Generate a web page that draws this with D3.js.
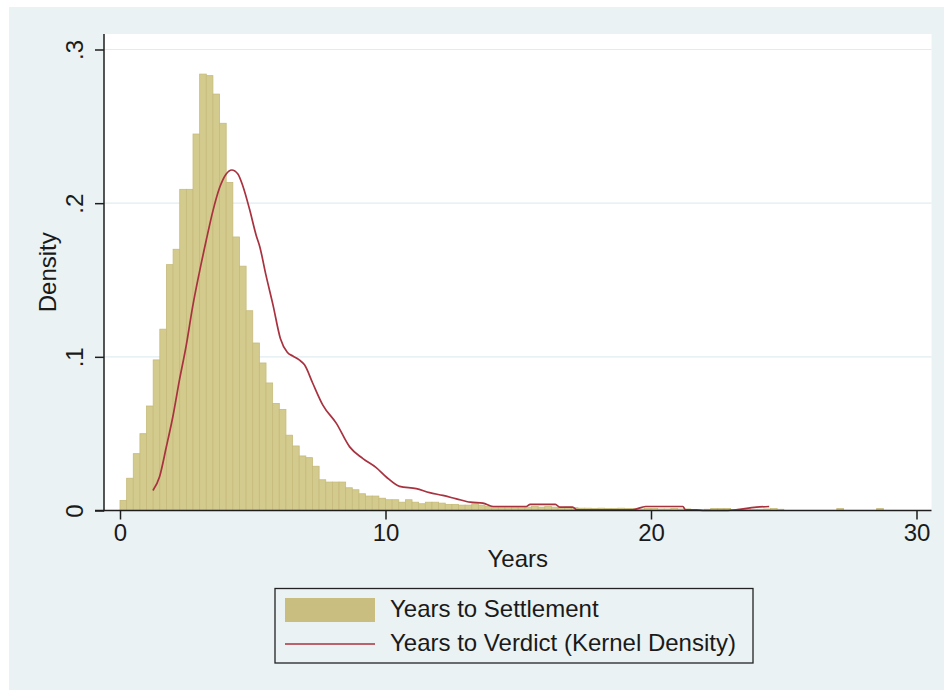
<!DOCTYPE html>
<html>
<head>
<meta charset="utf-8">
<script src="https://cdn.jsdelivr.net/npm/d3@7"></script>
<style>
  html, body { margin: 0; padding: 0; background: #ffffff; }
  svg { display: block; }
  text { font-family: "Liberation Sans", Arial, sans-serif; fill: #1a1a1a; }
</style>
</head>
<body>
<script>
// ---------------- DATA ----------------
const binWidth = 0.25; // years per histogram bin
// Years to Settlement: histogram densities for bins [0,0.25), [0.25,0.5), ... up to 30
const settlementDensity = [
  0.0065, 0.021, 0.037, 0.050, 0.068, 0.098, 0.118, 0.160, 0.170, 0.209,
  0.209, 0.245, 0.284, 0.283, 0.271, 0.252, 0.2135, 0.178, 0.159, 0.130,
  0.109, 0.096, 0.083, 0.0697, 0.0658, 0.049, 0.042, 0.0355, 0.0344, 0.0288,
  0.020, 0.0185, 0.0185, 0.0185, 0.0148, 0.0135, 0.0109, 0.0094, 0.0094, 0.008,
  0.007, 0.007, 0.0054, 0.007, 0.0054, 0.0044, 0.0054, 0.0054, 0.0048, 0.004,
  0.004, 0.0035, 0.0035, 0.0044, 0.0035, 0.0026, 0.0026, 0.0026, 0.0026, 0.0024,
  0.0026, 0.0022, 0.0026, 0.0022, 0.0026, 0.0022, 0.0020, 0.0022, 0.0018, 0.0015,
  0.0015, 0.0013, 0.0015, 0.0013, 0.0013, 0.0015, 0.0013, 0.0013, 0.0010, 0.0013,
  0.0013, 0.0010, 0.0010, 0.0013, 0.0010, 0.0010, 0.0005, 0, 0.0008, 0.0013,
  0.0013, 0.0013, 0.0005, 0.0008, 0.0010, 0.0008, 0.0008, 0.0010, 0.0013, 0.0008,
  0, 0, 0, 0, 0, 0, 0, 0, 0.0013, 0,
  0, 0, 0, 0, 0.0013, 0, 0, 0, 0, 0
];
// Years to Verdict: kernel density estimate (years, density)
const verdictYears = [
  1.24, 1.49, 1.74, 1.99, 2.24, 2.49, 2.74, 2.99, 3.25, 3.5,
  3.75, 4.0, 4.21, 4.44, 4.63, 4.88, 5.13, 5.26, 5.5, 5.76,
  6.04, 6.3, 6.51, 6.75, 6.95, 7.26, 7.64, 8.15, 8.65, 9.15,
  9.65, 10.03, 10.53, 11.16, 11.66, 12.16, 12.67, 13.2, 13.67, 14.05,
  14.6, 15.3, 15.45, 16.4, 16.56, 17.05, 17.2, 18.3, 19.3, 19.8,
  20.5, 21.2, 21.3, 21.7, 22.0, 22.9, 23.2, 23.97, 24.45
];
const verdictDensity = [
  0.013, 0.022, 0.041, 0.061, 0.085, 0.107, 0.133, 0.155, 0.176, 0.195,
  0.210, 0.219, 0.2216, 0.219, 0.211, 0.196, 0.179, 0.172, 0.153, 0.134,
  0.112, 0.103, 0.1005, 0.098, 0.0948, 0.0828, 0.0686, 0.0567, 0.0414, 0.0338,
  0.0279, 0.0218, 0.0157, 0.0142, 0.0116, 0.0098, 0.0076, 0.0054, 0.0048, 0.0026,
  0.0026, 0.0026, 0.004, 0.004, 0.0022, 0.0022, 0.0005, 0.0005, 0.0005, 0.0026,
  0.0026, 0.0026, 0.0005, 0.0005, 0.0, 0.0, 0.0005, 0.0022, 0.0026
];
const xTicks = [0, 10, 20, 30];
const xTickLabels = ["0", "10", "20", "30"];
const yTicks = [0, 0.1, 0.2, 0.3];
const yTickLabels = ["0", ".1", ".2", ".3"];
const legendLabels = ["Years to Settlement", "Years to Verdict (Kernel Density)"];
const xTitle = "Years";
const yTitle = "Density";

// ---------------- LAYOUT ----------------
const W = 946, H = 694;
const plot = { left: 104, top: 34, right: 931.5, bottom: 510.5 };
const barColor = "#d3ca8d", barStroke = "#c6bb7b", swatchColor = "#c9be80";
const lineColor = "#a8323f";
const bgColor = "#eaf2f3", gridColor = "#e1ecef", axisColor = "#1e1e1e";
const fontFam = '"Liberation Sans", Arial, sans-serif';

const svg = d3.select("body").append("svg").attr("width", W).attr("height", H);

// outer background
svg.append("rect").attr("x", 9).attr("y", 7).attr("width", 935).attr("height", 683).attr("fill", bgColor);
// plot region
svg.append("rect").attr("x", plot.left).attr("y", plot.top)
  .attr("width", plot.right - plot.left).attr("height", plot.bottom - plot.top).attr("fill", "#ffffff");

const x = d3.scaleLinear().domain([0, 30]).range([120, 916.5]);
const y = d3.scaleLinear().domain([0, 0.3]).range([plot.bottom, 49.5]);

// gridlines
svg.append("g").selectAll("line").data(yTicks.filter(d => d > 0)).join("line")
  .attr("x1", plot.left).attr("x2", plot.right)
  .attr("y1", d => y(d)).attr("y2", d => y(d))
  .attr("stroke", gridColor).attr("stroke-width", 1.2);

// histogram bars
const bins = settlementDensity.map((v, i) => ({ x0: i * binWidth, x1: (i + 1) * binWidth, v }));
svg.append("g").selectAll("rect").data(bins.filter(b => b.v > 0)).join("rect")
  .attr("x", d => x(d.x0))
  .attr("width", d => x(d.x1) - x(d.x0))
  .attr("y", d => y(d.v))
  .attr("height", d => y(0) - y(d.v))
  .attr("fill", barColor).attr("stroke", barStroke).attr("stroke-width", 0.8);

// kernel density line
const kd = verdictYears.map((t, i) => [t, verdictDensity[i]]);
const lineGen = d3.line().x(d => x(d[0])).y(d => y(d[1])).curve(d3.curveMonotoneX);
svg.append("path").datum(kd)
  .attr("fill", "none").attr("stroke", lineColor).attr("stroke-width", 1.7)
  .attr("d", lineGen);

// axes
const xAxis = d3.axisBottom(x).tickValues(xTicks).tickFormat((d, i) => xTickLabels[i]).tickSize(9).tickSizeOuter(0);
const gx = svg.append("g").attr("transform", `translate(0,${plot.bottom})`).call(xAxis);
gx.select(".domain").remove();
gx.selectAll(".tick line").attr("stroke", axisColor).attr("stroke-width", 1.5);
gx.selectAll(".tick text").attr("y", 30).attr("dy", 0)
  .style("font-size", "24px").style("font-family", fontFam).attr("fill", "#1a1a1a");

const yAxis = d3.axisLeft(y).tickValues(yTicks).tickFormat((d, i) => yTickLabels[i]).tickSize(9).tickSizeOuter(0);
const gy = svg.append("g").attr("transform", `translate(${plot.left},0)`).call(yAxis);
gy.select(".domain").remove();
gy.selectAll(".tick line").attr("stroke", axisColor).attr("stroke-width", 1.5);
gy.selectAll(".tick text")
  .attr("x", 0).attr("y", 0).attr("dy", 0)
  .attr("text-anchor", "middle")
  .attr("transform", "translate(-21,0) rotate(-90)")
  .style("font-size", "24px").style("font-family", fontFam).attr("fill", "#1a1a1a");

// axis lines
svg.append("line").attr("x1", plot.left).attr("x2", plot.left).attr("y1", plot.top).attr("y2", plot.bottom + 0.75)
  .attr("stroke", axisColor).attr("stroke-width", 1.5);
svg.append("line").attr("x1", 95).attr("x2", plot.right).attr("y1", plot.bottom).attr("y2", plot.bottom)
  .attr("stroke", axisColor).attr("stroke-width", 1.5);

// axis titles
svg.append("text").attr("x", (plot.left + plot.right) / 2).attr("y", 567)
  .attr("text-anchor", "middle").style("font-size", "24px").text(xTitle);
svg.append("text").attr("transform", `translate(56,${(plot.top + plot.bottom) / 2}) rotate(-90)`)
  .attr("text-anchor", "middle").style("font-size", "24px").text(yTitle);

// legend
const lg = svg.append("g");
lg.append("rect").attr("x", 275).attr("y", 588.5).attr("width", 478).attr("height", 74.5)
  .attr("fill", bgColor).attr("stroke", "#222").attr("stroke-width", 1.3);
lg.append("rect").attr("x", 285).attr("y", 598).attr("width", 90).attr("height", 24).attr("fill", swatchColor);
lg.append("line").attr("x1", 285).attr("x2", 375).attr("y1", 644).attr("y2", 644)
  .attr("stroke", lineColor).attr("stroke-width", 1.7);
lg.append("text").attr("x", 390).attr("y", 617).style("font-size", "24px").text(legendLabels[0]);
lg.append("text").attr("x", 390).attr("y", 651).style("font-size", "24px").text(legendLabels[1]);
</script>
</body>
</html>
